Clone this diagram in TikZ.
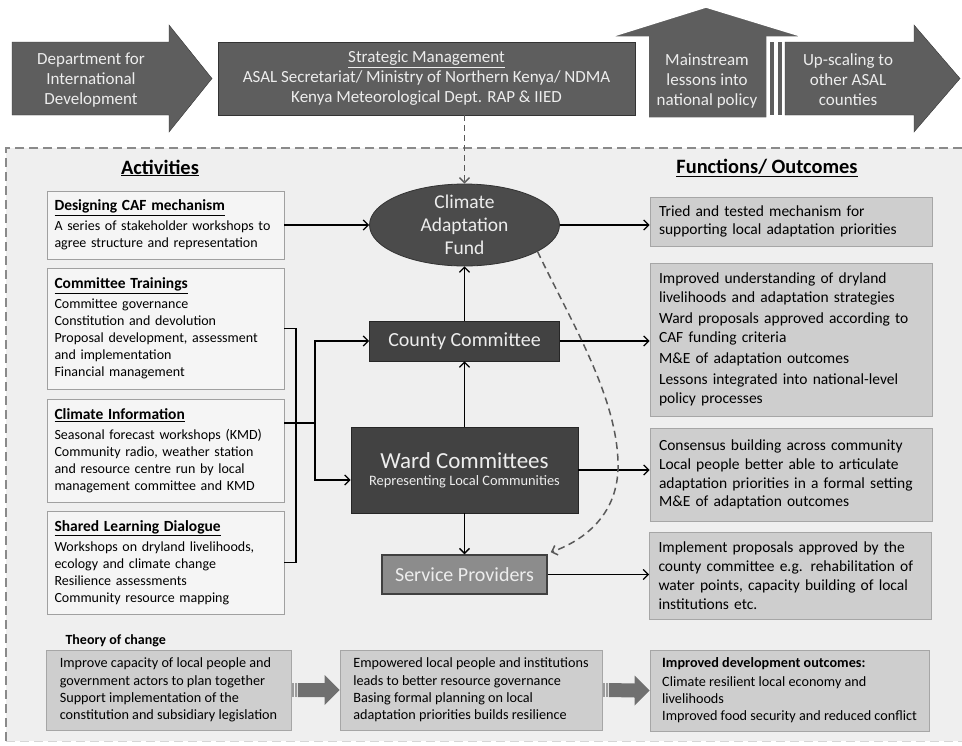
\documentclass[tikz,border=0pt]{standalone}
\usepackage{fontspec}
\setmainfont{Carlito}
\usepackage{xcolor}
\usepackage{tikz}
\usetikzlibrary{arrows.meta,positioning,calc,shapes.geometric}

\definecolor{topgray}{HTML}{5E5E5E}
\definecolor{boxdark}{HTML}{424242}
\definecolor{boxmid}{HTML}{8C8C8C}
\definecolor{outfill}{HTML}{CECECE}
\definecolor{outline}{HTML}{A6A6A6}
\definecolor{actfill}{HTML}{F5F5F5}
\definecolor{actline}{HTML}{A0A0A0}
\definecolor{bggray}{HTML}{EFEFEF}
\definecolor{dashgray}{HTML}{8A8A8A}
\definecolor{paletext}{HTML}{EDEDED}
\definecolor{arrowgray}{HTML}{707070}

\newcommand{\acttitle}[1]{{\fontsize{15.5}{17}\selectfont\bfseries\underline{#1}}}

\begin{document}
\begin{tikzpicture}[x=1pt, y=-1pt,
  >={Straight Barb[length=5pt,width=10pt]},
  toptext/.style={text=paletext, align=center, font=\fontsize{17}{20}\selectfont},
  actbox/.style={draw=actline, fill=actfill, line width=0.8pt, text width=222pt, inner xsep=7.5pt, align=left, font=\fontsize{14}{17}\selectfont},
  outbox/.style={draw=outline, fill=outfill, line width=0.8pt, text width=264pt, inner xsep=9pt, align=left, font=\fontsize{15.5}{18.8}\selectfont},
  tocbox/.style={draw=outline, fill=outfill, line width=0.8pt, align=left, inner sep=0pt, font=\fontsize{14.2}{17.3}\selectfont},
  darkbox/.style={fill=boxdark, draw=black!85, line width=0.8pt, text=paletext},
  flow/.style={->, line width=1.3pt},
  head/.style={font=\fontsize{20.4}{22}\selectfont\bfseries},
]
\useasboundingbox (0,0) rectangle (962,745);
\fill[white] (0,0) rectangle (962,745);

% project area
\fill[bggray] (6,148) rectangle (962,741);
\draw[dashgray, line width=1.8pt, dash pattern=on 9pt off 5pt] (962,148) -- (6,148) -- (6,745);
\draw[dashgray!35, line width=1pt, dash pattern=on 9pt off 5pt] (6,741) -- (962,741);

% top row
\fill[topgray, draw=black!80] (12,42) -- (169,42) -- (169,25) -- (212,78.5) -- (169,132) -- (169,115) -- (12,115) -- cycle;
\node[toptext] (dfid) at (91,80) {Department for\\International\\Development};
\node[fill=topgray, draw=black!80, minimum width=417, minimum height=73, toptext] (strat) at (426.5,78.5)
  {\underline{Strategic Management}\\ASAL Secretariat/ Ministry of Northern Kenya/ NDMA\\Kenya Meteorological Dept. RAP \& IIED};
\filldraw[fill=topgray, draw=white, line width=1.5pt] (648,118) -- (648,37) -- (610,37) -- (706,7) -- (804,37) -- (767,37) -- (767,118) -- cycle;
\node[toptext] (policy) at (707,81) {Mainstream\\lessons into\\national policy};
\fill[topgray] (770,42) rectangle (774,115);
\fill[topgray] (777.5,42) rectangle (781.5,115);
\fill[topgray, draw=black!80] (785,42) -- (914,42) -- (914,25) -- (960,78.5) -- (914,132) -- (914,115) -- (785,115) -- cycle;
\node[toptext] (upscale) at (848,80) {Up-scaling to\\other ASAL\\counties};

% headings
\node[head] (acthead) at (160,168) {\underline{Activities}};
\node[head] (outhead) at (767,168) {\underline{Functions/ Outcomes}};

% activities
\node[actbox, minimum height=68] (design) at (165.5,225)
  {\acttitle{Designing CAF mechanism}\\[3pt]A series of stakeholder workshops to\\agree structure and representation};
\node[actbox, minimum height=121] (training) at (165.5,328.5)
  {\acttitle{Committee Trainings}\\[3pt]Committee governance\\Constitution and devolution\\Proposal development, assessment\\and implementation\\Financial management};
\node[actbox, minimum height=103] (climinfo) at (165.5,450.5)
  {\acttitle{Climate Information}\\[3pt]Seasonal forecast workshops (KMD)\\Community radio, weather station\\and resource centre run by local\\management committee and KMD};
\node[actbox, minimum height=103] (sld) at (165.5,562.5)
  {\acttitle{Shared Learning Dialogue}\\[3pt]Workshops on dryland livelihoods,\\ecology and climate change\\Resilience assessments\\Community resource mapping};

% institutions
\node[ellipse, fill=boxdark!95!white, draw=black!80, line width=0.8pt, text=paletext, align=center, minimum width=190, minimum height=82,
  inner xsep=0pt, inner ysep=-8pt, font=\fontsize{19.5}{23}\selectfont] (caf) at (464.5,225) {Climate\\Adaptation\\Fund};
\node[darkbox, minimum width=190, minimum height=40, font=\fontsize{20}{22}\selectfont] (county) at (464.5,341) {County Committee};
\node[darkbox, minimum width=227, minimum height=86, align=center] (ward) at (464.5,470)
  {{\fontsize{23}{25}\selectfont Ward Committees}\\[5pt]{\fontsize{14.4}{16}\selectfont Representing Local Communities}};
\node[fill=boxmid, draw=black!75, line width=1.5pt, text=paletext, minimum width=165, minimum height=39,
  font=\fontsize{20}{22}\selectfont] (serv) at (464.5,574.5) {Service Providers};

% outcomes
\node[outbox, minimum height=49] (out1) at (791,221.5)
  {Tried and tested mechanism for\\supporting local adaptation priorities};
\node[outbox, minimum height=153] (out2) at (791,339.5)
  {Improved understanding of dryland\\livelihoods and adaptation strategies\\[2.5pt]Ward proposals approved according to\\CAF funding criteria\\[2.5pt]M\&E of adaptation outcomes\\[2.5pt]Lessons integrated into national-level\\policy processes};
\node[outbox, minimum height=93] (out3) at (791,474.5)
  {Consensus building across community\\Local people better able to articulate\\adaptation priorities in a formal setting\\M\&E of adaptation outcomes};
\node[outbox, minimum height=87] (out4) at (790.5,575.5)
  {Implement proposals approved by the\\county committee e.g. rehabilitation of\\water points, capacity building of local\\institutions etc.};

% connectors
\coordinate (jl) at (296,423);
\coordinate (jr) at (315,423);
\draw[flow] (design.east) -- (caf.west);
\draw[line width=1.3pt] (training.east) -| (jl |- sld.east) -- (sld.east);
\draw[line width=1.3pt] (climinfo.east |- jr) -- (jr);
\draw[flow] (jr) |- (county.west);
\draw[flow] (jr) |- ([yshift=-10pt]ward.west);
\draw[flow] (county) -- (caf);
\draw[flow] (ward) -- (county);
\draw[flow] (ward) -- (serv);
\draw[flow] (caf.east) -- (out1.west |- caf.east);
\draw[flow] (county.east) -- (out2.west |- county.east);
\draw[flow] (ward.east) -- (out3.west |- ward.east);
\draw[flow] (serv.east) -- (out4.west |- serv.east);
\draw[->, black!65, line width=1.4pt, dash pattern=on 6pt off 4pt] (strat.south -| caf.north) -- (caf.north);
\draw[->, black!65, line width=1.5pt, dash pattern=on 7pt off 4.5pt] (caf.-20) .. controls (570,320) and (620,400) .. (618,470)
  .. controls (616,515) and (585,540) .. ([xshift=3pt,yshift=2pt]serv.north east);

% theory of change
\node[font=\fontsize{14}{16}\selectfont\bfseries, anchor=west] (tochead) at (62,641) {Theory of change};
\node[tocbox, minimum width=245, minimum height=80] (toc1) at (168.5,690)
  {Improve capacity of local people and\\government actors to plan together\\Support implementation of the\\constitution and subsidiary legislation};
\node[tocbox, minimum width=262, minimum height=80] (toc2) at (471,690)
  {Empowered local people and institutions\\leads to better resource governance\\Basing formal planning on local\\adaptation priorities builds resilience};
\node[tocbox, minimum width=279, minimum height=81] (toc3) at (789.5,690.5)
  {\textbf{Improved development outcomes:}\\[1pt]Climate resilient local economy and\\livelihoods\\Improved food security and reduced conflict};
\foreach \a/\b in {toc1/toc2, toc2/toc3}{
  \fill[arrowgray!70] ($(\a.east)+(0.5,-7)$) rectangle ($(\a.east)+(2.5,7)$);
  \fill[arrowgray!70] ($(\a.east)+(3.5,-7)$) rectangle ($(\a.east)+(5.5,7)$);
  \fill[arrowgray] ($(\a.east)+(6.5,-7)$) -- ($(\b.west)+(-15,-7)$) -- ($(\b.west)+(-15,-15)$) -- (\b.west)
    -- ($(\b.west)+(-15,15)$) -- ($(\b.west)+(-15,7)$) -- ($(\a.east)+(6.5,7)$) -- cycle;
}
\end{tikzpicture}
\end{document}
